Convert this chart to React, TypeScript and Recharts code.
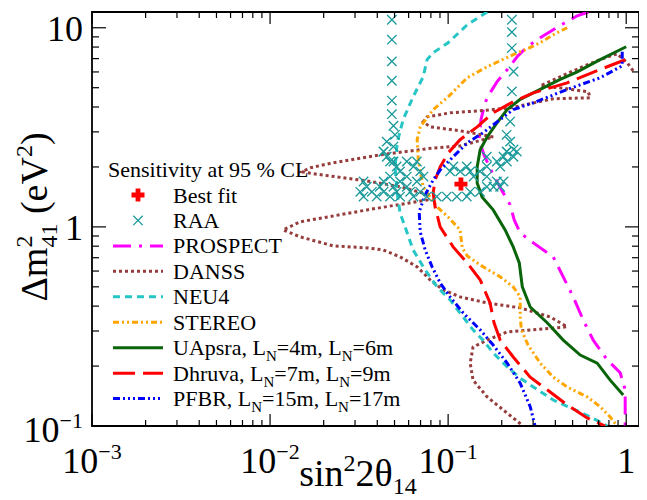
import React from 'react';
import { ComposedChart, Line, Scatter, XAxis, YAxis, ReferenceArea, Legend } from 'recharts';

type Pt = { x: number; y: number };

// ---------- tick values ----------
const xMajorTicks = [0.001, 0.01, 0.1, 1];
const xMinorTicks = [
  0.002, 0.003, 0.004, 0.005, 0.006, 0.007, 0.008, 0.009,
  0.02, 0.03, 0.04, 0.05, 0.06, 0.07, 0.08, 0.09,
  0.2, 0.3, 0.4, 0.5, 0.6, 0.7, 0.8, 0.9,
];
const xTickBase = ['10', '10', '10', '1'];
const xTickExp = ['\u22123', '\u22122', '\u22121', ''];

const yMajorTicks = [0.1, 1, 10];
const yMinorTicks = [0.2, 0.3, 0.4, 0.5, 0.6, 0.7, 0.8, 0.9, 2, 3, 4, 5, 6, 7, 8, 9];
const yTickBase = ['10', '1', '10'];
const yTickExp = ['\u22121', '', ''];

const xDomain = [0.001, 1.18];
const yDomain = [0.1, 12];

// ---------- series ----------
const bestFit: Pt[] = [{ x: 0.118, y: 1.64 }];

const raaLeftColumn: Pt[] = [
  { x: 0.0483, y: 10.97 }, { x: 0.0483, y: 8.71 }, { x: 0.0483, y: 6.78 }, { x: 0.0483, y: 5.42 },
  { x: 0.0483, y: 4.31 }, { x: 0.0483, y: 3.68 }, { x: 0.0493, y: 3.22 }, { x: 0.0503, y: 2.9 },
  { x: 0.0452, y: 2.68 }, { x: 0.0493, y: 2.53 }, { x: 0.0434, y: 2.39 }, { x: 0.0472, y: 2.13 },
];
const raaRightColumn: Pt[] = [
  { x: 0.228, y: 10.97 }, { x: 0.228, y: 9.51 }, { x: 0.228, y: 7.91 }, { x: 0.233, y: 6.03 },
  { x: 0.228, y: 4.79 }, { x: 0.223, y: 3.38 }, { x: 0.213, y: 2.9 }, { x: 0.223, y: 2.68 },
  { x: 0.233, y: 2.45 }, { x: 0.213, y: 2.39 },
];
const raaCluster: Pt[] = [
  { x: 0.0335, y: 1.42 }, { x: 0.0397, y: 1.42 }, { x: 0.0472, y: 1.42 }, { x: 0.0537, y: 1.42 },
  { x: 0.0639, y: 1.42 }, { x: 0.0759, y: 1.42 }, { x: 0.0863, y: 1.42 }, { x: 0.0982, y: 1.42 },
  { x: 0.1119, y: 1.42 }, { x: 0.1273, y: 1.42 },
  { x: 0.0321, y: 1.5 }, { x: 0.0373, y: 1.5 }, { x: 0.0434, y: 1.5 }, { x: 0.0514, y: 1.5 },
  { x: 0.0612, y: 1.5 }, { x: 0.0697, y: 1.5 }, { x: 0.133, y: 1.5 }, { x: 0.151, y: 1.5 },
  { x: 0.0349, y: 1.59 }, { x: 0.0413, y: 1.59 }, { x: 0.0493, y: 1.59 }, { x: 0.0586, y: 1.59 },
  { x: 0.1649, y: 1.59 }, { x: 0.18, y: 1.59 }, { x: 0.196, y: 1.59 },
  { x: 0.0335, y: 1.69 }, { x: 0.0434, y: 1.69 }, { x: 0.0537, y: 1.69 }, { x: 0.0667, y: 1.69 },
  { x: 0.1877, y: 1.69 }, { x: 0.2047, y: 1.69 },
  { x: 0.0472, y: 1.79 }, { x: 0.0586, y: 1.79 }, { x: 0.0727, y: 1.79 }, { x: 0.139, y: 1.79 },
  { x: 0.1649, y: 1.79 },
  { x: 0.0537, y: 1.9 }, { x: 0.0697, y: 1.9 }, { x: 0.1026, y: 1.9 }, { x: 0.117, y: 1.9 },
  { x: 0.133, y: 1.9 }, { x: 0.151, y: 1.9 },
  { x: 0.0514, y: 2.01 }, { x: 0.0639, y: 2.01 }, { x: 0.107, y: 2.01 }, { x: 0.1273, y: 2.01 },
  { x: 0.1649, y: 2.01 }, { x: 0.196, y: 2.01 },
  { x: 0.0493, y: 2.13 }, { x: 0.0586, y: 2.13 }, { x: 0.0667, y: 2.13 }, { x: 0.1877, y: 2.13 },
  { x: 0.2137, y: 2.13 },
  { x: 0.0452, y: 2.25 }, { x: 0.1649, y: 2.25 }, { x: 0.2047, y: 2.25 }, { x: 0.233, y: 2.25 },
  { x: 0.0434, y: 2.39 }, { x: 0.2137, y: 2.39 }, { x: 0.243, y: 2.39 },
];

const prospect: Pt[] = [
  { x: 0.612, y: 12.0 }, { x: 0.531, y: 11.49 }, { x: 0.443, y: 10.47 }, { x: 0.389, y: 9.77 },
  { x: 0.329, y: 8.91 }, { x: 0.278, y: 8.03 }, { x: 0.244, y: 7.15 }, { x: 0.215, y: 6.17 },
  { x: 0.188, y: 5.35 }, { x: 0.172, y: 4.71 }, { x: 0.161, y: 4.2 }, { x: 0.153, y: 3.46 },
  { x: 0.149, y: 2.74 }, { x: 0.159, y: 2.3 }, { x: 0.179, y: 1.83 }, { x: 0.204, y: 1.48 },
  { x: 0.223, y: 1.29 }, { x: 0.235, y: 1.084 }, { x: 0.254, y: 0.933 }, { x: 0.301, y: 0.831 },
  { x: 0.389, y: 0.707 }, { x: 0.443, y: 0.561 }, { x: 0.504, y: 0.445 }, { x: 0.573, y: 0.341 },
  { x: 0.653, y: 0.27 }, { x: 0.782, y: 0.215 }, { x: 0.925, y: 0.185 }, { x: 0.987, y: 0.152 },
  { x: 0.987, y: 0.1 },
];

const danss: Pt[] = [
  { x: 1.094, y: 6.08 }, { x: 1.013, y: 6.67 }, { x: 0.889, y: 7.4 }, { x: 0.714, y: 6.92 },
  { x: 0.552, y: 6.3 }, { x: 0.426, y: 5.67 }, { x: 0.329, y: 5.11 }, { x: 0.426, y: 4.99 },
  { x: 0.612, y: 4.77 }, { x: 0.628, y: 4.45 }, { x: 0.389, y: 4.4 }, { x: 0.223, y: 3.96 },
  { x: 0.1513, y: 3.83 }, { x: 0.1026, y: 3.74 }, { x: 0.0762, y: 3.57 }, { x: 0.0724, y: 3.37 },
  { x: 0.0792, y: 3.18 }, { x: 0.1167, y: 3.04 }, { x: 0.179, y: 2.83 }, { x: 0.1167, y: 2.55 },
  { x: 0.0824, y: 2.49 }, { x: 0.0415, y: 2.3 }, { x: 0.0226, y: 2.1 }, { x: 0.0168, y: 1.98 },
  { x: 0.0151, y: 1.89 }, { x: 0.01745, y: 1.85 }, { x: 0.0351, y: 1.7 }, { x: 0.0537, y: 1.59 },
  { x: 0.0762, y: 1.46 }, { x: 0.0762, y: 1.366 }, { x: 0.0351, y: 1.217 }, { x: 0.01475, y: 1.06 },
  { x: 0.01183, y: 0.966 }, { x: 0.01475, y: 0.891 }, { x: 0.0226, y: 0.803 }, { x: 0.0351, y: 0.784 },
  { x: 0.0431, y: 0.766 }, { x: 0.0537, y: 0.707 }, { x: 0.067, y: 0.63 }, { x: 0.0792, y: 0.542 },
  { x: 0.0937, y: 0.483 }, { x: 0.1167, y: 0.445 }, { x: 0.1656, y: 0.415 }, { x: 0.254, y: 0.392 },
  { x: 0.374, y: 0.353 }, { x: 0.466, y: 0.315 }, { x: 0.301, y: 0.304 }, { x: 0.2146, y: 0.297 },
  { x: 0.1656, y: 0.27 }, { x: 0.138, y: 0.249 }, { x: 0.133, y: 0.207 }, { x: 0.138, y: 0.17 },
  { x: 0.1656, y: 0.14 }, { x: 0.2146, y: 0.116 }, { x: 0.264, y: 0.1 },
];

const neu4: Pt[] = [
  { x: 0.1656, y: 12 }, { x: 0.128, y: 10.35 }, { x: 0.1, y: 8.41 }, { x: 0.0824, y: 7.49 },
  { x: 0.0762, y: 6.92 }, { x: 0.0724, y: 5.67 }, { x: 0.0636, y: 4.5 }, { x: 0.0559, y: 3.46 },
  { x: 0.0517, y: 2.64 }, { x: 0.0504, y: 2.0 }, { x: 0.0517, y: 1.48 }, { x: 0.0537, y: 1.176 },
  { x: 0.0581, y: 0.966 }, { x: 0.0636, y: 0.766 }, { x: 0.0743, y: 0.608 }, { x: 0.0867, y: 0.5 },
  { x: 0.1026, y: 0.43 }, { x: 0.1214, y: 0.353 }, { x: 0.138, y: 0.304 }, { x: 0.157, y: 0.27 },
  { x: 0.179, y: 0.233 }, { x: 0.2146, y: 0.198 }, { x: 0.254, y: 0.174 }, { x: 0.301, y: 0.157 },
  { x: 0.389, y: 0.135 }, { x: 0.552, y: 0.1175 }, { x: 0.714, y: 0.1047 }, { x: 0.782, y: 0.1 },
];

const stereo: Pt[] = [
  { x: 0.466, y: 10.0 }, { x: 0.389, y: 9.22 }, { x: 0.329, y: 8.41 }, { x: 0.278, y: 7.84 },
  { x: 0.232, y: 7.32 }, { x: 0.196, y: 6.83 }, { x: 0.1656, y: 6.37 }, { x: 0.128, y: 5.61 },
  { x: 0.1, y: 4.5 }, { x: 0.0824, y: 3.88 }, { x: 0.0697, y: 3.18 }, { x: 0.067, y: 2.74 },
  { x: 0.068, y: 2.17 }, { x: 0.0724, y: 1.59 }, { x: 0.0762, y: 1.48 }, { x: 0.0867, y: 1.26 },
  { x: 0.1, y: 1.12 }, { x: 0.1167, y: 0.966 }, { x: 0.12, y: 0.784 }, { x: 0.128, y: 0.715 },
  { x: 0.1513, y: 0.644 }, { x: 0.196, y: 0.561 }, { x: 0.232, y: 0.5 }, { x: 0.254, y: 0.445 },
  { x: 0.254, y: 0.353 }, { x: 0.258, y: 0.304 }, { x: 0.281, y: 0.255 }, { x: 0.329, y: 0.207 },
  { x: 0.389, y: 0.176 }, { x: 0.466, y: 0.157 }, { x: 0.604, y: 0.14 }, { x: 0.714, y: 0.125 },
  { x: 0.813, y: 0.111 }, { x: 0.889, y: 0.1 },
];

const uapsra: Pt[] = [
  { x: 1.0, y: 8.03 }, { x: 0.714, y: 6.92 }, { x: 0.531, y: 6.01 }, { x: 0.426, y: 5.5 },
  { x: 0.329, y: 4.9 }, { x: 0.254, y: 4.37 }, { x: 0.2146, y: 3.88 }, { x: 0.188, y: 3.33 },
  { x: 0.1656, y: 2.83 }, { x: 0.1513, y: 2.44 }, { x: 0.1456, y: 2.0 }, { x: 0.1456, y: 1.66 },
  { x: 0.155, y: 1.415 }, { x: 0.179, y: 1.217 }, { x: 0.209, y: 0.966 }, { x: 0.232, y: 0.793 },
  { x: 0.251, y: 0.659 }, { x: 0.261, y: 0.5 }, { x: 0.289, y: 0.396 }, { x: 0.36, y: 0.33 },
  { x: 0.443, y: 0.27 }, { x: 0.552, y: 0.227 }, { x: 0.687, y: 0.207 }, { x: 0.813, y: 0.17 },
  { x: 0.962, y: 0.143 },
];

const dhruva: Pt[] = [
  { x: 0.987, y: 6.91 }, { x: 0.714, y: 6.17 }, { x: 0.466, y: 5.29 }, { x: 0.301, y: 4.71 },
  { x: 0.232, y: 4.25 }, { x: 0.179, y: 3.74 }, { x: 0.1456, y: 3.18 }, { x: 0.1167, y: 2.74 },
  { x: 0.1, y: 2.35 }, { x: 0.0902, y: 2.0 }, { x: 0.0845, y: 1.72 }, { x: 0.0824, y: 1.48 },
  { x: 0.0845, y: 1.26 }, { x: 0.0902, y: 1.0 }, { x: 0.1067, y: 0.793 }, { x: 0.128, y: 0.659 },
  { x: 0.1513, y: 0.542 }, { x: 0.172, y: 0.415 }, { x: 0.181, y: 0.33 }, { x: 0.196, y: 0.27 },
  { x: 0.232, y: 0.222 }, { x: 0.289, y: 0.176 }, { x: 0.36, y: 0.152 }, { x: 0.466, y: 0.1276 },
  { x: 0.604, y: 0.1097 }, { x: 0.762, y: 0.1 },
];

const pfbr: Pt[] = [
  { x: 0.95, y: 7.57 }, { x: 0.95, y: 6.44 }, { x: 0.714, y: 5.61 }, { x: 0.466, y: 4.9 },
  { x: 0.301, y: 4.2 }, { x: 0.232, y: 3.88 }, { x: 0.196, y: 3.46 }, { x: 0.157, y: 2.97 },
  { x: 0.128, y: 2.64 }, { x: 0.1067, y: 2.25 }, { x: 0.0902, y: 1.93 }, { x: 0.0824, y: 1.72 },
  { x: 0.0743, y: 1.45 }, { x: 0.0688, y: 1.19 }, { x: 0.0697, y: 0.944 }, { x: 0.0743, y: 0.766 },
  { x: 0.0813, y: 0.63 }, { x: 0.0902, y: 0.523 }, { x: 0.1026, y: 0.445 }, { x: 0.1214, y: 0.37 },
  { x: 0.1513, y: 0.304 }, { x: 0.179, y: 0.255 }, { x: 0.2146, y: 0.207 }, { x: 0.254, y: 0.164 },
  { x: 0.289, y: 0.125 }, { x: 0.308, y: 0.1 },
];

// ---------- styles ----------
const FONT = 'Liberation Serif, Times New Roman, Times, serif';
const C_RAA = '#1a9999';
const C_BEST = '#ff0000';

type LineStyle = { key: string; color: string; dash?: string; width: number };
const S_PROSPECT: LineStyle = { key: 'PROSPECT', color: '#ff00ff', dash: '18 8 3 8', width: 3 };
const S_DANSS: LineStyle = { key: 'DANSS', color: '#963c3c', dash: '3 3', width: 3 };
const S_NEU4: LineStyle = { key: 'NEU4', color: '#26c6c6', dash: '7 5', width: 3 };
const S_STEREO: LineStyle = { key: 'STEREO', color: '#ffa500', dash: '6 3 2 3 2 3', width: 3 };
const S_UAPSRA: LineStyle = { key: 'UApsra', color: '#0a640a', width: 3 };
const S_DHRUVA: LineStyle = { key: 'Dhruva', color: '#ff0000', dash: '22 8', width: 3 };
const S_PFBR: LineStyle = { key: 'PFBR', color: '#0000ff', dash: '7 3 2 3 2 3 2 3', width: 3 };

const W = 639;
const H = 492;
const PLOT_LEFT = 84;
const PLOT_RIGHT = 631;
const PLOT_TOP = 4;
const PLOT_BOTTOM = 418;

function XTick(props: any) {
  const { x, payload } = props;
  const v = payload.value;
  const mi = xMajorTicks.indexOf(v);
  const major = mi >= 0;
  const len = major ? 12 : 6;
  return (
    <g>
      <line x1={x} x2={x} y1={PLOT_BOTTOM} y2={PLOT_BOTTOM - len} stroke="#000" strokeWidth={1.2} />
      <line x1={x} x2={x} y1={PLOT_TOP} y2={PLOT_TOP + len} stroke="#000" strokeWidth={1.2} />
      {major && (
        <text x={x} y={PLOT_BOTTOM + 47} textAnchor="middle" style={{ fontFamily: FONT }} fontSize={36} fill="#000">
          {xTickBase[mi]}
          {xTickExp[mi] ? <tspan dy={-14} fontSize={22}>{xTickExp[mi]}</tspan> : null}
        </text>
      )}
    </g>
  );
}

function YTick(props: any) {
  const { y, payload } = props;
  const v = payload.value;
  const mi = yMajorTicks.indexOf(v);
  const major = mi >= 0;
  const len = major ? 14 : 7;
  const hasExp = major && yTickExp[mi] !== '';
  return (
    <g>
      <line x1={PLOT_LEFT} x2={PLOT_LEFT + len} y1={y} y2={y} stroke="#000" strokeWidth={1.2} />
      <line x1={PLOT_RIGHT} x2={PLOT_RIGHT - len} y1={y} y2={y} stroke="#000" strokeWidth={1.2} />
      {major && (
        <text x={PLOT_LEFT - 9} y={y + (hasExp ? 16 : 13)} textAnchor="end" style={{ fontFamily: FONT }} fontSize={36} fill="#000">
          {yTickBase[mi]}
          {hasExp ? <tspan dy={-14} fontSize={22}>{yTickExp[mi]}</tspan> : null}
        </text>
      )}
    </g>
  );
}

function YTitle() {
  const cx = 39;
  const cy = 209;
  return (
    <text x={cx} y={cy} transform={`rotate(-90 ${cx} ${cy})`} textAnchor="middle" style={{ fontFamily: FONT }} fontSize={38} fill="#000">
      {'\u0394m'}
      <tspan dy={-15} fontSize={24}>2</tspan>
      <tspan dx={-12} dy={25} fontSize={24}>41</tspan>
      <tspan dy={-10}>{' (eV'}</tspan>
      <tspan dy={-15} fontSize={24}>2</tspan>
      <tspan dy={15}>)</tspan>
    </text>
  );
}

function XTitle() {
  return (
    <text x={350} y={478} textAnchor="middle" style={{ fontFamily: FONT }} fontSize={38} fill="#000">
      sin
      <tspan dy={-15} fontSize={24}>2</tspan>
      <tspan dy={15}>{'2\u03b8'}</tspan>
      <tspan dy={8} fontSize={24}>14</tspan>
    </text>
  );
}

function RaaMark(props: any) {
  const { cx, cy } = props;
  if (cx == null || cy == null) return null;
  const r = 4.7;
  return (
    <path d={`M${cx - r},${cy - r}L${cx + r},${cy + r}M${cx - r},${cy + r}L${cx + r},${cy - r}`} stroke={C_RAA} strokeWidth={1.3} fill="none" />
  );
}

function PlusMark(props: any) {
  const { cx, cy } = props;
  if (cx == null || cy == null) return null;
  const a = 6.5;
  const t = 2.4;
  return (
    <path
      d={`M${cx - t},${cy - a}H${cx + t}V${cy - t}H${cx + a}V${cy + t}H${cx + t}V${cy + a}H${cx - t}V${cy + t}H${cx - a}V${cy - t}H${cx - t}Z`}
      fill={C_BEST}
    />
  );
}

const legendLines: { style: LineStyle; label: React.ReactNode }[] = [
  { style: S_PROSPECT, label: 'PROSPECT' },
  { style: S_DANSS, label: 'DANSS' },
  { style: S_NEU4, label: 'NEU4' },
  { style: S_STEREO, label: 'STEREO' },
  {
    style: S_UAPSRA,
    label: (
      <>
        UApsra, L<tspan dy={6} fontSize={15}>N</tspan>
        <tspan dy={-6}>=4m, L</tspan>
        <tspan dy={6} fontSize={15}>N</tspan>
        <tspan dy={-6}>=6m</tspan>
      </>
    ),
  },
  {
    style: S_DHRUVA,
    label: (
      <>
        Dhruva, L<tspan dy={6} fontSize={15}>N</tspan>
        <tspan dy={-6}>=7m, L</tspan>
        <tspan dy={6} fontSize={15}>N</tspan>
        <tspan dy={-6}>=9m</tspan>
      </>
    ),
  },
  {
    style: S_PFBR,
    label: (
      <>
        PFBR, L<tspan dy={6} fontSize={15}>N</tspan>
        <tspan dy={-6}>=15m, L</tspan>
        <tspan dy={6} fontSize={15}>N</tspan>
        <tspan dy={-6}>=17m</tspan>
      </>
    ),
  },
];

function LegendBox() {
  const rowH = 25.45;
  const firstY = 37;
  const textX = 73;
  const fs = 22;
  return (
    <svg width={300} height={270} style={{ overflow: 'visible', display: 'block' }}>
      <g style={{ fontFamily: FONT }} fontSize={fs} fill="#000">
        <text x={8} y={19}>Sensitivity at 95 % CL</text>
        <PlusMark cx={38} cy={firstY} />
        <text x={textX} y={firstY + 7.5}>Best fit</text>
        <RaaMark cx={38} cy={firstY + rowH} />
        <text x={textX} y={firstY + rowH + 7.5}>RAA</text>
        {legendLines.map((it, i) => {
          const cy = firstY + rowH * (i + 2);
          return (
            <g key={it.style.key}>
              <line x1={13} x2={63} y1={cy} y2={cy} stroke={it.style.color} strokeWidth={it.style.width} strokeDasharray={it.style.dash} />
              <text x={textX} y={cy + 7.5}>{it.label}</text>
            </g>
          );
        })}
      </g>
    </svg>
  );
}

function renderLine(data: Pt[], s: LineStyle) {
  return (
    <Line
      key={s.key}
      data={data}
      dataKey="y"
      name={s.key}
      type="linear"
      stroke={s.color}
      strokeWidth={s.width}
      strokeDasharray={s.dash}
      dot={false}
      activeDot={false}
      isAnimationActive={false}
      legendType="none"
    />
  );
}

export default function App() {
  return (
    <div style={{ width: W, height: H }}>
      <ComposedChart width={W} height={H} margin={{ top: PLOT_TOP, right: W - PLOT_RIGHT, left: 0, bottom: 0 }}>
        <XAxis
          dataKey="x"
          type="number"
          scale="log"
          domain={xDomain}
          allowDataOverflow
          ticks={[...xMajorTicks, ...xMinorTicks].sort((a, b) => a - b)}
          interval={0}
          tick={<XTick />}
          tickLine={false}
          tickSize={0}
          tickMargin={0}
          axisLine={false}
          height={H - PLOT_BOTTOM}
          label={<XTitle />}
        />
        <YAxis
          dataKey="y"
          type="number"
          scale="log"
          domain={yDomain}
          allowDataOverflow
          ticks={[...yMajorTicks, ...yMinorTicks].sort((a, b) => a - b)}
          interval={0}
          tick={<YTick />}
          tickLine={false}
          tickSize={0}
          tickMargin={0}
          axisLine={false}
          width={PLOT_LEFT}
          label={<YTitle />}
        />
        <Scatter data={[...raaLeftColumn, ...raaRightColumn, ...raaCluster]} dataKey="y" name="RAA" shape={<RaaMark />} isAnimationActive={false} legendType="none" />
        {renderLine(prospect, S_PROSPECT)}
        {renderLine(danss, S_DANSS)}
        {renderLine(neu4, S_NEU4)}
        {renderLine(stereo, S_STEREO)}
        {renderLine(uapsra, S_UAPSRA)}
        {renderLine(dhruva, S_DHRUVA)}
        {renderLine(pfbr, S_PFBR)}
        <Scatter data={bestFit} dataKey="y" name="Best fit" shape={<PlusMark />} isAnimationActive={false} legendType="none" />
        <ReferenceArea x1={xDomain[0]} x2={xDomain[1]} y1={yDomain[0]} y2={yDomain[1]} fill="none" stroke="#000" strokeWidth={1.8} ifOverflow="visible" />
        <Legend
          layout="horizontal"
          align="center"
          verticalAlign="middle"
          content={() => <LegendBox />}
          wrapperStyle={{ left: 92, top: 150, width: 300, height: 270 }}
        />
      </ComposedChart>
    </div>
  );
}
